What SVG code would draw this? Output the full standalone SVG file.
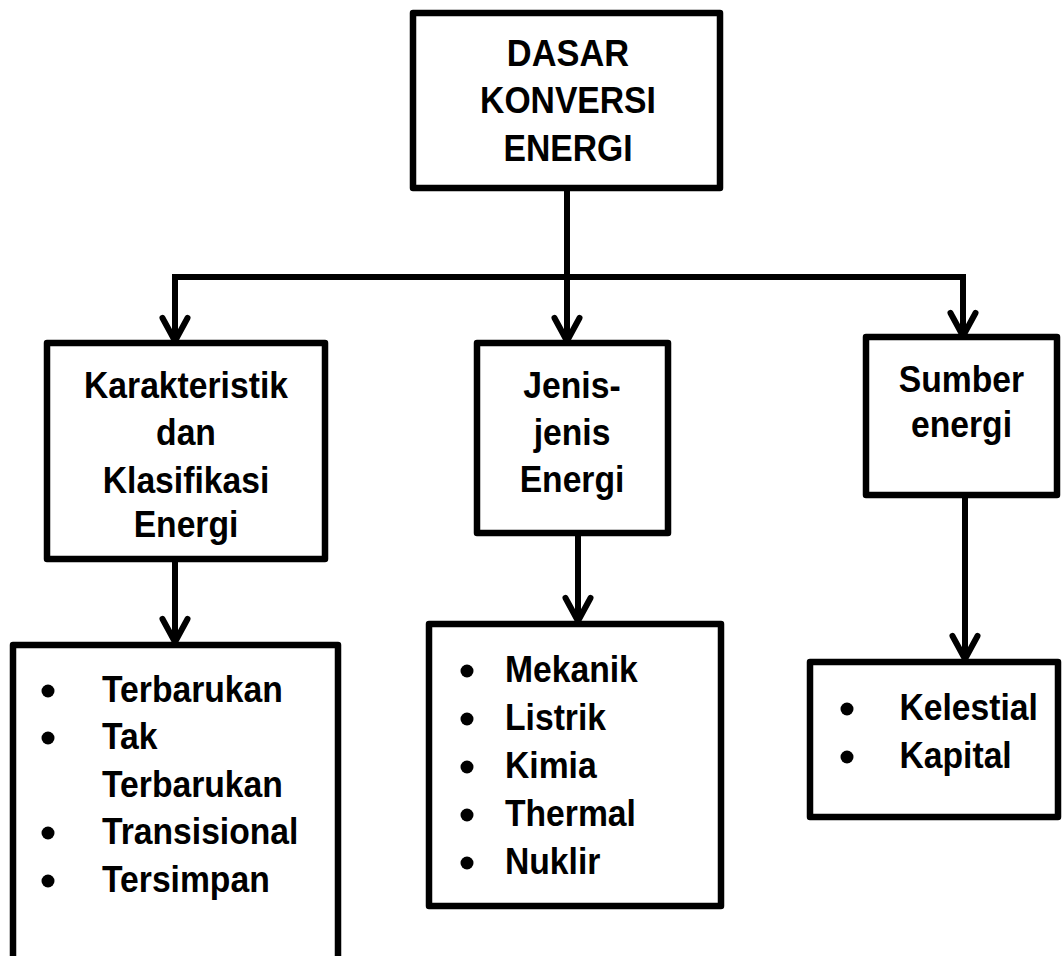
<svg xmlns="http://www.w3.org/2000/svg" width="1062" height="956" viewBox="0 0 1062 956">
  <defs>
    <style>
      .box { fill: #ffffff; stroke: #000000; stroke-width: 6.5; stroke-linejoin: round; }
      .wire { fill: none; stroke: #000000; stroke-width: 6; stroke-linejoin: miter; }
      .lbl { font-family: "Liberation Sans", Arial, sans-serif; font-weight: bold; font-size: 37px; fill: #000000; }
      .mid { text-anchor: middle; }
      .dot { fill: #000000; }
    </style>
    <marker id="chevron" markerUnits="userSpaceOnUse" markerWidth="40" markerHeight="40" refX="0" refY="0" orient="auto" overflow="visible">
      <path d="M -23 -12.5 L 0 0 L -23 12.5" fill="none" stroke="#000000" stroke-width="6" stroke-linecap="round" stroke-linejoin="round"/>
    </marker>
  </defs>
  <rect width="1062" height="956" fill="#ffffff"/>

  <!-- connectors -->
  <g id="connectors">
    <line class="wire" x1="567" y1="188" x2="567" y2="277"/>
    <polyline class="wire" points="175,277 963,277"/>
    <polyline class="wire" points="175,274 175,341" marker-end="url(#chevron)"/>
    <polyline class="wire" points="567,274 567,341" marker-end="url(#chevron)"/>
    <polyline class="wire" points="963,274 963,336" marker-end="url(#chevron)"/>
    <line class="wire" x1="175" y1="559" x2="175" y2="642" marker-end="url(#chevron)"/>
    <line class="wire" x1="578" y1="533" x2="578" y2="621" marker-end="url(#chevron)"/>
    <line class="wire" x1="965" y1="495" x2="965" y2="659" marker-end="url(#chevron)"/>
  </g>

  <!-- root node -->
  <g id="node-dasar">
    <rect class="box" x="413" y="13" width="307" height="175"/>
    <text class="lbl mid" transform="translate(568,66) scale(0.93,1)">DASAR</text>
    <text class="lbl mid" transform="translate(568,113) scale(0.91,1)">KONVERSI</text>
    <text class="lbl mid" transform="translate(568,161) scale(0.91,1)">ENERGI</text>
  </g>

  <g id="node-karakteristik">
    <rect class="box" x="47" y="343" width="278" height="216"/>
    <text class="lbl mid" transform="translate(186,398) scale(0.91,1)">Karakteristik</text>
    <text class="lbl mid" transform="translate(186,445) scale(0.91,1)">dan</text>
    <text class="lbl mid" transform="translate(186,493) scale(0.91,1)">Klasifikasi</text>
    <text class="lbl mid" transform="translate(186,537) scale(0.91,1)">Energi</text>
  </g>

  <g id="node-jenis">
    <rect class="box" x="477" y="343" width="191" height="190"/>
    <text class="lbl mid" transform="translate(572,398) scale(0.91,1)">Jenis-</text>
    <text class="lbl mid" transform="translate(572,445) scale(0.91,1)">jenis</text>
    <text class="lbl mid" transform="translate(572,492) scale(0.91,1)">Energi</text>
  </g>

  <g id="node-sumber">
    <rect class="box" x="866" y="337" width="191" height="158"/>
    <text class="lbl mid" transform="translate(961.5,392) scale(0.91,1)">Sumber</text>
    <text class="lbl mid" transform="translate(961.5,437) scale(0.91,1)">energi</text>
  </g>

  <g id="node-klasifikasi-list">
    <rect class="box" x="13" y="645" width="325" height="330"/>
    <circle class="dot" cx="48" cy="691" r="6.5"/>
    <circle class="dot" cx="48" cy="738" r="6.5"/>
    <circle class="dot" cx="48" cy="833" r="6.5"/>
    <circle class="dot" cx="48" cy="881" r="6.5"/>
    <text class="lbl" transform="translate(102,702) scale(0.91,1)">Terbarukan</text>
    <text class="lbl" transform="translate(102,749) scale(0.91,1)">Tak</text>
    <text class="lbl" transform="translate(102,797) scale(0.91,1)">Terbarukan</text>
    <text class="lbl" transform="translate(102,844) scale(0.91,1)">Transisional</text>
    <text class="lbl" transform="translate(102,892) scale(0.91,1)">Tersimpan</text>
  </g>

  <g id="node-jenis-list">
    <rect class="box" x="429" y="624" width="292" height="282"/>
    <circle class="dot" cx="467" cy="671" r="6.5"/>
    <circle class="dot" cx="467" cy="719" r="6.5"/>
    <circle class="dot" cx="467" cy="767" r="6.5"/>
    <circle class="dot" cx="467" cy="815" r="6.5"/>
    <circle class="dot" cx="467" cy="863" r="6.5"/>
    <text class="lbl" transform="translate(505,682) scale(0.91,1)">Mekanik</text>
    <text class="lbl" transform="translate(505,730) scale(0.91,1)">Listrik</text>
    <text class="lbl" transform="translate(505,778) scale(0.91,1)">Kimia</text>
    <text class="lbl" transform="translate(505,826) scale(0.91,1)">Thermal</text>
    <text class="lbl" transform="translate(505,874) scale(0.91,1)">Nuklir</text>
  </g>

  <g id="node-sumber-list">
    <rect class="box" x="810" y="662" width="248" height="155"/>
    <circle class="dot" cx="847" cy="709" r="6.5"/>
    <circle class="dot" cx="847" cy="757" r="6.5"/>
    <text class="lbl" transform="translate(899.5,720) scale(0.91,1)">Kelestial</text>
    <text class="lbl" transform="translate(899.5,768) scale(0.91,1)">Kapital</text>
  </g>
</svg>
